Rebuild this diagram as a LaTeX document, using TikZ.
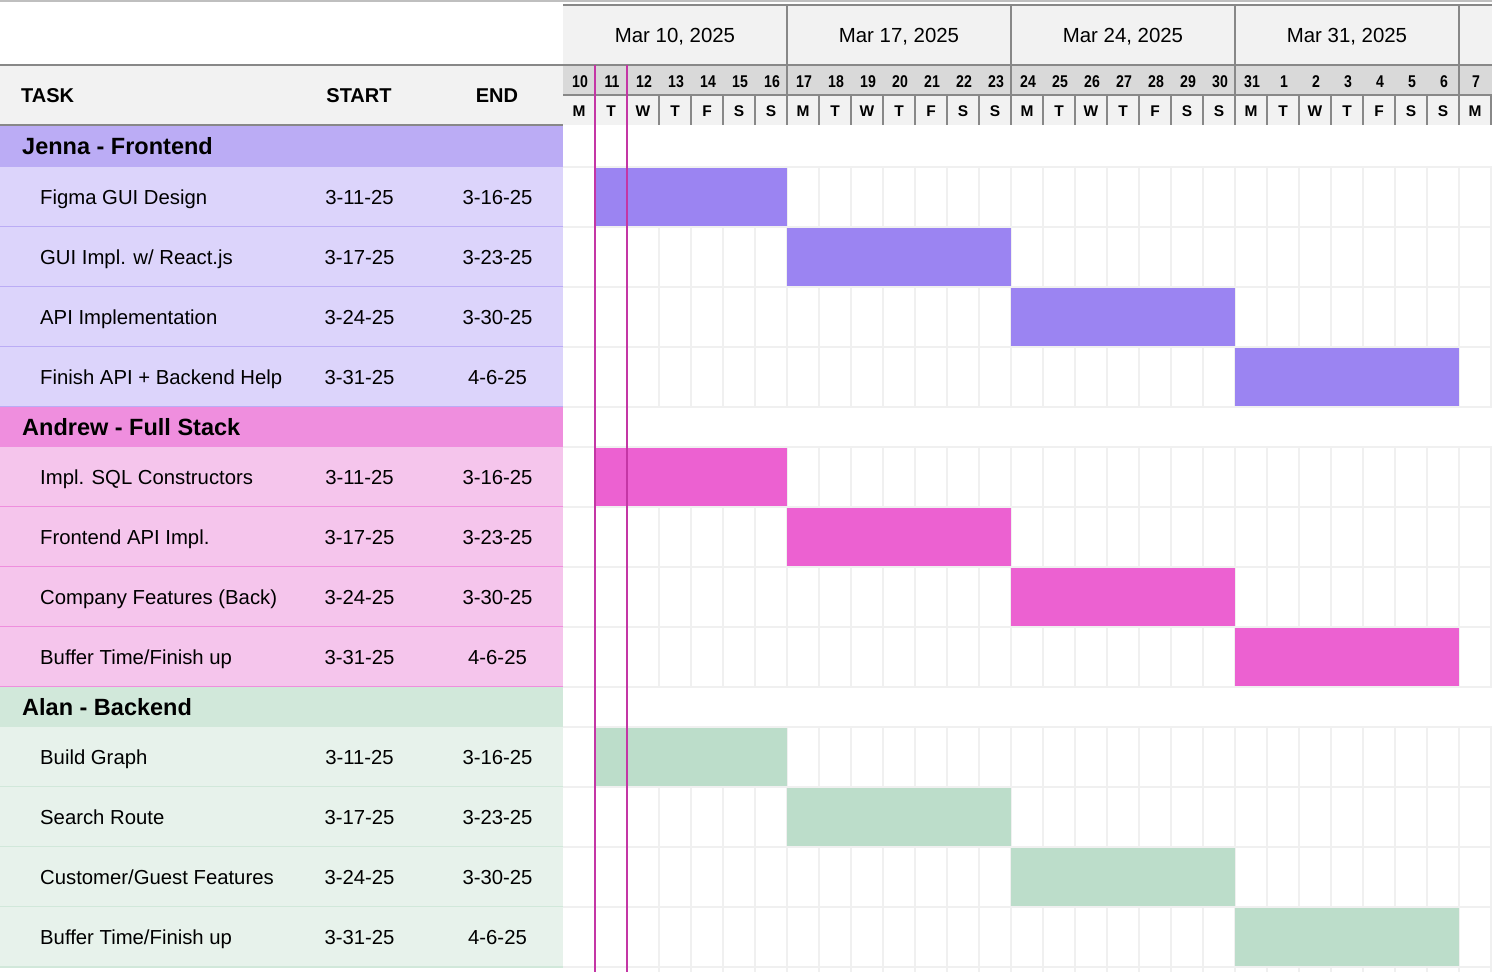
\documentclass[tikz,border=0pt]{standalone}
\usepackage{fontspec}
\setmainfont{Liberation Sans}
\newfontfamily\daysfont[FakeStretch=0.83]{Liberation Sans}

\definecolor{hdrbg}{HTML}{F2F2F2}
\definecolor{daybg}{HTML}{D9D9D9}
\definecolor{rule}{HTML}{888888}
\definecolor{gridc}{HTML}{F0F0F0}
\definecolor{todayc}{HTML}{C436A5}
\definecolor{jenhead}{HTML}{BBACF5}
\definecolor{jenrow}{HTML}{DCD4FB}
\definecolor{jenbar}{HTML}{9B84F2}
\definecolor{andhead}{HTML}{EF8EDE}
\definecolor{androw}{HTML}{F5C5EC}
\definecolor{andbar}{HTML}{EC61D1}
\definecolor{alahead}{HTML}{D1E8DA}
\definecolor{alarow}{HTML}{E7F2EB}
\definecolor{alabar}{HTML}{BCDDCA}

\begin{document}
\begin{tikzpicture}[x=1pt, y=-1pt,
    every node/.style={inner sep=0pt},
    colhead/.style={font=\bfseries\fontsize{20}{24}\selectfont},
    group/.style={anchor=base west, font=\bfseries\fontsize{23.5}{28}\selectfont},
    task/.style={anchor=base west, font=\fontsize{20.3}{24}\selectfont},
    date/.style={anchor=base, font=\fontsize{20.3}{24}\selectfont},
    week/.style={anchor=base, font=\fontsize{20.4}{24}\selectfont},
    daynum/.style={anchor=base, font=\daysfont\bfseries\fontsize{17}{20}\selectfont},
    dayltr/.style={anchor=base, font=\bfseries\fontsize{15.5}{18}\selectfont},
    gridline/.style={draw=gridc, line width=2pt},
    rulegray/.style={draw=rule, line width=2pt},
    today/.style={draw=todayc, line width=2pt}]

  \useasboundingbox (0,0) rectangle (1492,972);
  \fill[white] (0,0) rectangle (1492,972);
  \draw[draw=black!25, line width=2pt] (0,1) -- (1492,1);

  % header backgrounds
  \fill[hdrbg] (0,65) rectangle (563,125);
  \fill[hdrbg] (563,5) rectangle (1492,65);
  \fill[daybg] (563,65) rectangle (1492,95);
  \fill[hdrbg] (563,95) rectangle (1492,125);

  % chart grid
  \foreach \ya/\yb in {167/407, 447/687, 727/972}
    \foreach \k in {1,...,29}
      \draw[gridline] (563+32*\k,\ya) -- (563+32*\k,\yb);
  \foreach \yy in {167,227,...,407,447,507,...,687,727,787,...,967}
    \draw[gridline] (563,\yy) -- (1492,\yy);

  % groups, rows and bars
  \foreach \ga/\gb/\hc/\rc/\bc/\lbl [count=\g] in
      {125/167/jenhead/jenrow/jenbar/{Jenna - Frontend},
       407/447/andhead/androw/andbar/{Andrew - Full Stack},
       687/727/alahead/alarow/alabar/{Alan - Backend}} {
    \fill[fill=\hc] (0,\ga) rectangle (563,\gb);
    \node[group] (group\g) at (22,{(\ga+\gb)/2+8}) {\lbl};
    \foreach \r/\xa/\xb in {0/595/787, 1/787/1011, 2/1011/1235, 3/1235/1459} {
      \fill[fill=\rc] (0,\gb+60*\r) rectangle (563,\gb+60*\r+60);
      \draw[draw=\hc, line width=2pt] (0,\gb+60*\r+60) -- (563,\gb+60*\r+60);
      \fill[fill=\bc] (\xa,\gb+60*\r+1) rectangle (\xb,\gb+60*\r+59);
    }
  }

  % header rules
  \draw[rulegray] (563,5) -- (1492,5);
  \draw[rulegray] (0,65) -- (1492,65);
  \draw[rulegray] (563,95) -- (1492,95);
  \draw[rulegray] (0,125) -- (563,125);
  \foreach \k in {1,...,29}
    \draw[rulegray] (563+32*\k,95) -- (563+32*\k,125);
  \foreach \k in {1,...,4}
    \draw[rulegray] (563+224*\k,5) -- (563+224*\k,125);

  % today markers
  \draw[today] (595,65) -- (595,972);
  \draw[today] (627,65) -- (627,972);

  % column headings
  \node[colhead, anchor=base west] (taskhead) at (21,102) {TASK};
  \node[colhead, anchor=base] (starthead) at (359,102) {START};
  \node[colhead, anchor=base] (endhead) at (497,102) {END};

  % weeks and days
  \foreach \w [count=\i from 0] in {{Mar 10, 2025}, {Mar 17, 2025}, {Mar 24, 2025}, {Mar 31, 2025}}
    \node[week] (week\i) at (675+224*\i,42) {\w};
  \foreach \d/\l [count=\k from 0] in {10/M,11/T,12/W,13/T,14/F,15/S,16/S,
      17/M,18/T,19/W,20/T,21/F,22/S,23/S,24/M,25/T,26/W,27/T,28/F,29/S,30/S,
      31/M,1/T,2/W,3/T,4/F,5/S,6/S,7/M} {
    \node[daynum] (num\k) at (580+32*\k,87) {\d};
    \node[dayltr] (ltr\k) at (579+32*\k,116) {\l};
  }

  % tasks
  \foreach \yy/\name/\st/\en [count=\i] in
      {197/{Figma GUI Design}/3-11-25/3-16-25,
       257/{GUI Impl. w/ React.js}/3-17-25/3-23-25,
       317/{API Implementation}/3-24-25/3-30-25,
       377/{Finish API + Backend Help}/3-31-25/4-6-25,
       477/{Impl. SQL Constructors}/3-11-25/3-16-25,
       537/{Frontend API Impl.}/3-17-25/3-23-25,
       597/{Company Features (Back)}/3-24-25/3-30-25,
       657/{Buffer Time/Finish up}/3-31-25/4-6-25,
       757/{Build Graph}/3-11-25/3-16-25,
       817/{Search Route}/3-17-25/3-23-25,
       877/{Customer/Guest Features}/3-24-25/3-30-25,
       937/{Buffer Time/Finish up}/3-31-25/4-6-25} {
    \node[task] (task\i) at (40,\yy+7.5) {\name};
    \node[date] (start\i) at (359.5,\yy+7.5) {\st};
    \node[date] (end\i) at (497.5,\yy+7.5) {\en};
  }
\end{tikzpicture}
\end{document}
